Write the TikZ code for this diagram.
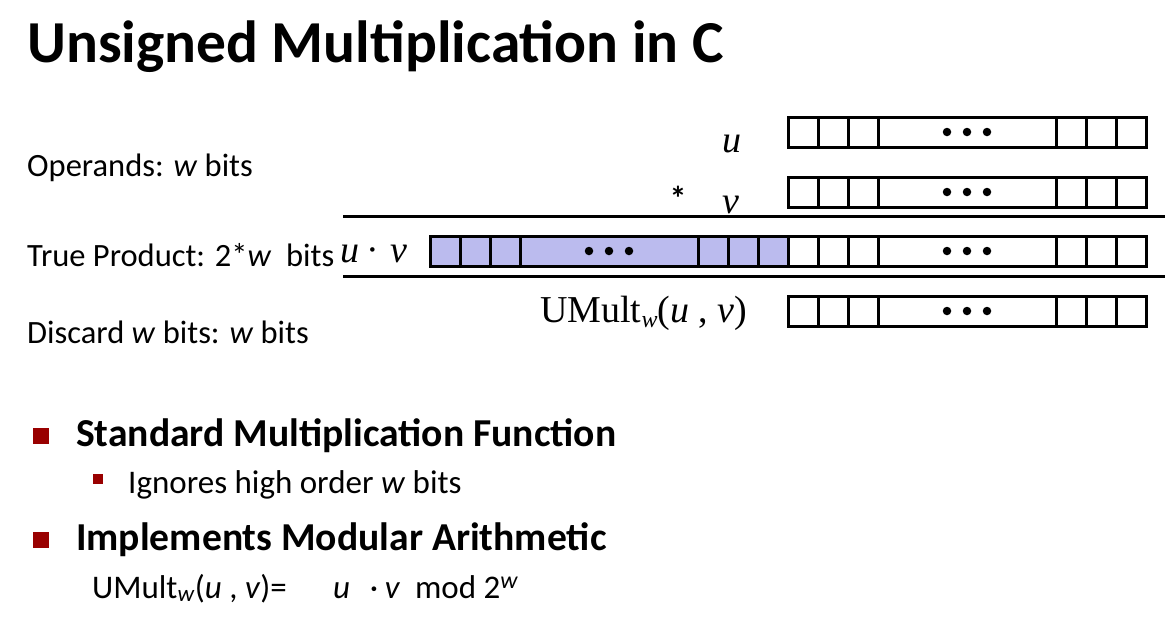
\documentclass[tikz,border=0pt]{standalone}
\usepackage{fontspec}
\setmainfont{Carlito}
\newfontfamily\tnr{Liberation Serif}
\definecolor{lav}{RGB}{187,187,238}
\definecolor{bred}{RGB}{153,0,0}
\tikzset{
  cell/.style={draw=black, line width=3pt},
  lbl/.style={anchor=base west, inner sep=0pt, font=\fontsize{32.5}{36}\selectfont},
  ser/.style={anchor=base west, inner sep=0pt, font=\tnr\fontsize{38}{42}\selectfont},
  dotc/.style={fill=black, circle, inner sep=0pt, minimum size=8.5pt},
  rule/.style={draw=black, line width=3pt},
  bigb/.style={fill=bred, draw=none, inner sep=0pt, minimum size=16pt},
  smallb/.style={fill=bred, draw=none, inner sep=0pt, minimum size=10pt},
  headb/.style={anchor=base west, inner sep=0pt, font=\bfseries\fontsize{39.6}{44}\selectfont},
  subt/.style={anchor=base west, inner sep=0pt, font=\fontsize{33}{37}\selectfont}
}
\newcommand{\regrow}[2]{% #1 = top y, #2 = name
  \foreach \a/\b in {788/818,818/848,848/878,878/1056,1056/1086,1086/1116,1116/1146}
    \draw[cell] (\a,#1) rectangle (\b,#1+30);
  \node[dotc] (#2d1) at (947,#1+15) {};
  \node[dotc] (#2d2) at (967,#1+15) {};
  \node[dotc] (#2d3) at (987,#1+15) {};
}
\begin{document}
\begin{tikzpicture}[x=1pt,y=-1pt]
\useasboundingbox (0,0) rectangle (1171,625);
% title
\node[anchor=base west, inner sep=0pt, font=\bfseries\fontsize{59.5}{64}\selectfont] (title) at (27,62) {Unsigned Multiplication in C};
% left labels
\node[lbl] (ops) at (27,176) {Operands: \textit{w} bits};
\node[lbl] (tp) at (27,266) {True Product: 2*\textit{w}\ \ bits};
\node[lbl] (disc) at (27,343) {Discard \textit{w} bits: \textit{w} bits};
% registers
\regrow{117}{u}
\regrow{177}{v}
\regrow{236}{p}
\regrow{296}{m}
\foreach \a/\b in {430/460,460/490,490/520,520/698,698/728,728/758,758/788}
  \draw[cell, fill=lav] (\a,236) rectangle (\b,266);
\node[dotc] (ph1) at (589,251) {};
\node[dotc] (ph2) at (609,251) {};
\node[dotc] (ph3) at (629,251) {};
% rules
\coordinate (r1a) at (343,216); \coordinate (r1b) at (1165,216);
\coordinate (r2a) at (343,276); \coordinate (r2b) at (1165,276);
\draw[rule] (r1a) -- (r1b);
\draw[rule] (r2a) -- (r2b);
% serif labels
\node[ser] (lu) at (722,152) {\textit{u}};
\node[anchor=center, inner sep=0pt, font=\bfseries\fontsize{34}{36}\selectfont] (star) at (678,198) {*};
\node[ser] (lv) at (722,213) {\textit{v}};
\node[ser] (luv) at (340,262) {\textit{u}\hspace{0.2em}·\hspace{0.3em}\textit{v}};
\node[ser] (lm) at (540,322) {UMult\raisebox{-5pt}{\fontsize{24}{24}\selectfont\textit{w}}(\textit{u}\ , \textit{v})};
% bullets
\node[bigb] (b1) at (41,436) {};
\node[headb] (t1) at (76,446) {Standard Multiplication Function};
\node[smallb] (b2) at (98,479) {};
\node[subt] (t2) at (128,493) {Ignores high order \textit{w} bits};
\node[bigb] (b3) at (41,540) {};
\node[headb] (t3) at (76,550) {Implements Modular Arithmetic};
\node[subt] (t4) at (92,598) {UMult\textsubscript{\textit{w}}(\textit{u} , \textit{v})=\hspace{1.4em}\textit{u}\hspace{0.6em}·\hspace{0.2em}\textit{v}\ \ mod 2\textsuperscript{\fontsize{24}{24}\selectfont\textit{w}}};
\end{tikzpicture}
\end{document}
